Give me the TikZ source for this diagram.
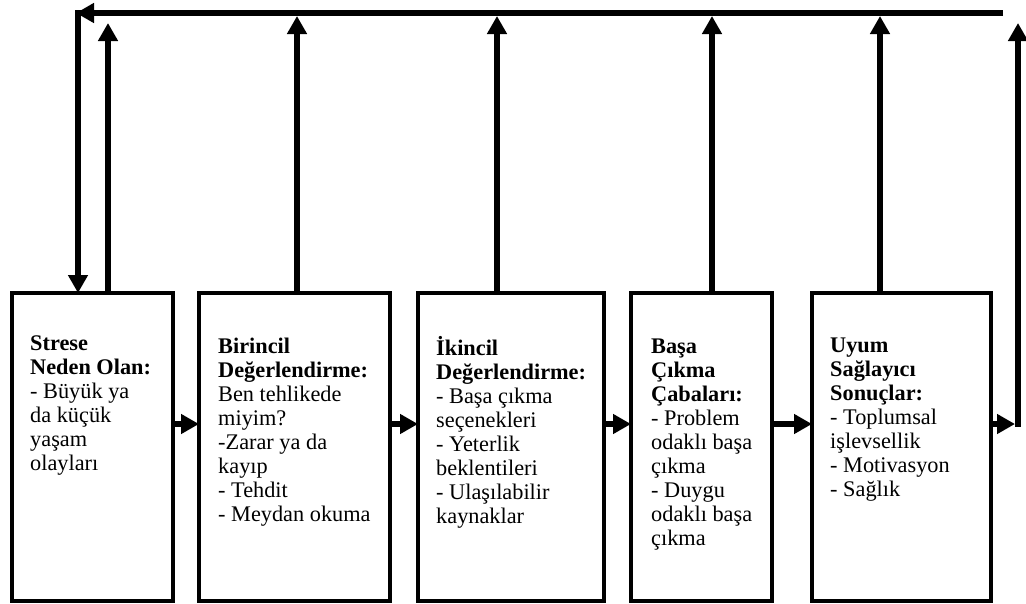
\documentclass[tikz,border=0pt]{standalone}
\usepackage{fontspec}
\setmainfont{Liberation Serif}
\usetikzlibrary{arrows.meta}
\begin{document}
\begin{tikzpicture}[x=1pt,y=-1pt,
  box/.style={draw,line width=3.5pt,minimum height=308pt,inner sep=0pt,outer sep=0pt,anchor=north west},
  arr/.style={line width=5.5pt,-{Triangle[length=18pt,width=19pt]}},
  txt/.style={anchor=north west,inner sep=0pt,align=left,font=\fontsize{22.3}{24}\selectfont}]
\useasboundingbox (0,0) rectangle (1026,603);
% boxes
\node[box,minimum width=161pt] (b1) at (12,293) {};
\node[box,minimum width=191pt] (b2) at (199,293) {};
\node[box,minimum width=186pt] (b3) at (418,293) {};
\node[box,minimum width=141pt] (b4) at (631,293) {};
\node[box,minimum width=179pt] (b5) at (812,293) {};
% texts
\node[txt] (x1) at (30,333.2) {\strut\textbf{Strese}\\\textbf{Neden Olan:}\\- Büyük ya\\da küçük\\yaşam\\olayları};
\node[txt] (x2) at (218,336.2) {\strut\textbf{Birincil}\\\textbf{Değerlendirme:}\\Ben tehlikede\\miyim?\\-Zarar ya da\\kayıp\\- Tehdit\\- Meydan okuma};
\node[txt] (x3) at (436,336.2) {\strut\textbf{İkincil}\\\textbf{Değerlendirme:}\\- Başa çıkma\\seçenekleri\\- Yeterlik\\beklentileri\\- Ulaşılabilir\\kaynaklar};
\node[txt] (x4) at (651,336.2) {\strut\textbf{Başa}\\\textbf{Çıkma}\\\textbf{Çabaları:}\\- Problem\\odaklı başa\\çıkma\\- Duygu\\odaklı başa\\çıkma};
\node[txt] (x5) at (830,335.2) {\strut\textbf{Uyum}\\\textbf{Sağlayıcı}\\\textbf{Sonuçlar:}\\- Toplumsal\\işlevsellik\\- Motivasyon\\- Sağlık};
% horizontal arrows
\coordinate (ya) at (0,424);
\draw[arr] (b1.east |- ya) -- (b2.west |- ya);
\draw[arr] (b2.east |- ya) -- (b3.west |- ya);
\draw[arr] (b3.east |- ya) -- (b4.west |- ya);
\draw[arr] (b4.east |- ya) -- (b5.west |- ya);
\coordinate (r0) at (1015,424);
\coordinate (r1) at (1018,426.75);
\coordinate (r2) at (1018,23);
\draw[arr] (b5.east |- ya) -- (r0);
\draw[arr] (r1) -- (r2);
% up arrows
\coordinate (t1) at (108,23);
\coordinate (t2) at (297,16);
\coordinate (t3) at (497,16);
\coordinate (t4) at (712,16);
\coordinate (t5) at (880,16);
\draw[arr] (b1.north -| t1) -- (t1);
\draw[arr] (b2.north -| t2) -- (t2);
\draw[arr] (b3.north -| t3) -- (t3);
\draw[arr] (b4.north -| t4) -- (t4);
\draw[arr] (b5.north -| t5) -- (t5);
% top feedback line
\coordinate (tr) at (1003,13);
\coordinate (tl) at (76,13);
\coordinate (tc) at (78,10.25);
\draw[arr] (tr) -- (tl);
\draw[arr] (tc) -- (b1.north -| tc);
\end{tikzpicture}
\end{document}
